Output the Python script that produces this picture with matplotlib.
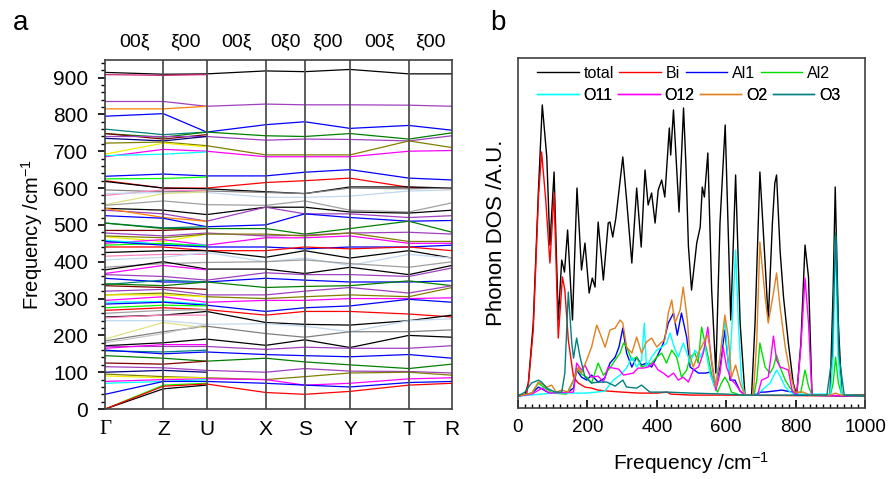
import numpy as np
import matplotlib
matplotlib.use('Agg')
import matplotlib.pyplot as plt
from matplotlib.ticker import MultipleLocator

plt.rcParams['font.family'] = ['Liberation Sans', 'DejaVu Sans']
plt.rcParams['font.size'] = 13
plt.rcParams['mathtext.default'] = 'regular'

# ---- panel a: band structure, values at the high symmetry points ----
kpoint_labels = ['Γ', 'Z', 'U', 'X', 'S', 'Y', 'T', 'R']
kpoint_dist = [0, 58.3, 101.6, 160.6, 199.6, 244.9, 303.6, 346.9]
direction_labels = ['00ξ', 'ξ00', '00ξ', '0ξ0', 'ξ00', '00ξ', 'ξ00']

n = np.nan
band_colors = [
    'k', '#D02070', '#A040C0', '#FF8000', 'b', '#008080', 'g', '#800000', '#A040C0', '#000080',
    '#808000', '#F0F000', '#FF00FF', '#00FFFF', 'b', '#00FF00', 'r', 'k', '#808080', '#FF80C0',
    '#C0D8F0', '#E0E080', '#A0A0A0', 'k', '#A040C0', '#FF8000', 'b', '#008080', 'g', '#800000',
    '#A040C0', '#F0F000', '#808000', '#FF00FF', '#00FFFF', '#00FF00', 'b', 'r', 'k', '#FF80C0',
    '#C0D8F0', '#A0A0A0', 'k', '#FF00FF', '#A040C0', 'b', '#008080', 'g', '#800000', '#A040C0',
    '#808000', '#F0F000', '#FF00FF', '#00FFFF', 'b', '#00FF00', 'r', '#A0A0A0', 'k', '#FF80C0',
    '#C0D8F0', '#808080', '#E0E080', '#C8C8C8', 'k', '#A040C0', '#FF00FF', '#008080', 'b', 'g',
    '#800000', '#A040C0', '#000080', '#808000', '#F0F000', '#FF00FF', '#00FFFF', 'b', '#00FF00', 'k',
    'r',
]
bands = [
    [914, 909, 910, 918, 916, 922, 910, 910],
    [908, 906, 908, n, n, n, n, n],
    [835, 835, 822, 828, 826, 826, 825, 822],
    [815, 815, 822, n, n, n, n, n],
    [795, 802, 752, 772, 780, 762, 770, 757],
    [760, 745, 752, n, n, n, n, n],
    [748, 738, 752, 742, 740, 748, 733, 750],
    [748, 733, 745, n, n, n, n, n],
    [740, 740, 740, 730, 733, 732, 728, 742],
    [735, 728, 740, n, n, n, n, n],
    [722, 725, 715, 690, 690, 690, 728, 710],
    [692, 722, 712, n, n, n, n, n],
    [685, 705, 700, 685, 685, 685, 700, 702],
    [688, 692, 698, n, n, n, n, n],
    [632, 638, 633, 633, 643, 650, 627, 622],
    [625, 626, 630, n, n, n, n, n],
    [620, 600, 600, 615, 620, 627, 602, 598],
    [618, 600, 598, 590, 585, 603, 603, 600],
    [595, 590, 592, 588, 585, 600, 598, 600],
    [580, 595, 592, n, n, n, n, n],
    [585, 588, 588, 575, 575, 578, 592, 595],
    [555, 585, 590, n, n, n, n, n],
    [553, 565, 555, 553, 565, 540, 535, 560],
    [545, 540, 528, 548, 548, 535, 532, 540],
    [540, 530, 510, 548, 530, 530, 520, 525],
    [545, 520, 510, n, n, n, n, n],
    [525, 518, 495, 500, 530, 520, 510, 512],
    [505, 492, 495, n, n, n, n, n],
    [505, 490, 490, 490, 475, 490, 510, 480],
    [485, 485, 490, n, n, n, n, n],
    [478, 470, 478, 470, 472, 478, 480, 475],
    [468, 455, 475, n, n, n, n, n],
    [470, 465, 475, 475, 470, 478, 455, 455],
    [450, 460, 445, 465, 465, 470, 450, 450],
    [458, 448, 445, n, n, n, n, n],
    [445, 450, 442, n, n, n, n, n],
    [455, 445, 440, 440, 435, 440, 440, 445],
    [440, 440, 430, 430, 440, 435, 440, 430],
    [425, 430, 430, 412, 430, 410, 430, 410],
    [415, 420, 420, n, n, n, n, n],
    [405, 412, 425, 400, 410, 390, 420, 410],
    [385, 395, 398, 400, 405, 395, 385, 400],
    [378, 400, 380, 380, 368, 385, 365, 390],
    [368, 390, 378, n, n, n, n, n],
    [365, 360, 350, 370, 365, 365, 360, 383],
    [355, 345, 345, 355, 350, 345, 345, 348],
    [338, 350, 345, n, n, n, n, n],
    [340, 335, 345, 330, 333, 335, 348, 335],
    [335, 330, 325, n, n, n, n, n],
    [320, 325, 310, 310, 320, 330, 315, 335],
    [310, 315, 305, 300, 305, 310, 305, 330],
    [310, 310, 305, n, n, n, n, n],
    [295, 305, 290, 295, 295, 300, 300, 302],
    [290, 292, 285, n, n, n, n, n],
    [285, 290, 282, 265, 275, 280, 298, 290],
    [275, 282, 280, n, n, n, n, n],
    [268, 275, 270, 255, 265, 265, 258, 250],
    [260, 268, 270, n, n, n, n, n],
    [250, 255, 265, 235, 230, 228, 240, 255],
    [248, 255, 255, n, n, n, n, n],
    [240, 240, 230, 232, 225, 210, 240, 245],
    [185, 210, 225, 205, 195, 210, 210, 215],
    [190, 235, 220, n, n, n, n, n],
    [180, 205, 230, n, n, n, n, n],
    [172, 180, 190, 173, 188, 167, 200, 195],
    [170, 170, 170, 162, 168, 165, 165, 172],
    [165, 175, 175, n, n, n, n, n],
    [158, 155, 160, n, n, n, n, n],
    [160, 150, 155, 148, 145, 142, 148, 138],
    [145, 138, 130, 138, 128, 120, 110, 122],
    [125, 122, 130, n, n, n, n, n],
    [115, 112, 105, 100, 110, 103, 102, 98],
    [100, 105, 100, n, n, n, n, n],
    [95, 88, 85, 80, 88, 98, 100, 92],
    [90, 85, 85, n, n, n, n, n],
    [75, 80, 82, 80, 65, 70, 82, 85],
    [70, 75, 80, n, n, n, n, n],
    [40, 75, 75, 70, 65, 60, 72, 75],
    [0, 65, 70, n, n, n, n, n],
    [0, 55, 65, n, n, n, n, n],
    [0, 62, 68, 45, 40, 48, 65, 70],
]

# ---- panel b: phonon DOS (arbitrary units) ----
total_f = [0, 20, 30, 44, 59, 70, 83, 92, 104, 116, 126, 134, 143, 157, 170, 183, 193, 205, 214, 222,
           231, 246, 260, 265, 273, 282, 302, 313, 328, 342, 355, 366, 375, 385, 395, 404, 414, 423, 436, 440,
           448, 464, 477, 484, 491, 500, 515, 525, 531, 537, 547, 558, 570, 582, 597, 613, 627, 640, 654, 673,
           683, 697, 712, 721, 733, 740, 745, 755, 765, 779, 793, 803, 815, 827, 837, 847, 899, 908, 914, 923,
           933, 1000]
total_v = [1, 1, 13, 73, 206, 291, 239, 151, 224, 76, 136, 124, 166, 76, 208, 126, 153, 103, 118, 109,
           174, 116, 173, 174, 159, 178, 239, 196, 133, 208, 149, 226, 191, 203, 173, 206, 216, 199, 268, 241,
           286, 184, 288, 230, 150, 106, 153, 169, 209, 199, 243, 106, 23, 173, 271, 76, 221, 73, 1, 1,
           73, 224, 133, 76, 173, 213, 221, 146, 99, 53, 13, 1, 53, 151, 119, 1, 1, 106, 209, 73,
           1, 1]

bi_f = [0, 25, 30, 44, 59, 68, 80, 92, 104, 116, 128, 135, 145, 160, 174, 193, 212, 231, 260, 300,
        350, 400, 430, 440, 500, 600, 1000]
bi_v = [0, 2, 13, 66, 199, 244, 196, 133, 203, 58, 119, 106, 56, 19, 13, 9, 8, 6, 5, 4,
        3, 3, 4, 2, 1, 1, 0]

al1_f = [0, 40, 59, 70, 90, 140, 160, 169, 183, 198, 212, 231, 250, 265, 280, 291, 302, 313, 328, 342,
         356, 370, 385, 400, 419, 433, 448, 459, 471, 486, 496, 520, 540, 553, 568, 582, 596, 611, 625, 640,
         654, 680, 700, 712, 760, 790, 800, 1000]
al1_v = [0, 3, 9, 7, 3, 3, 8, 26, 19, 16, 21, 14, 18, 33, 39, 49, 68, 43, 29, 39,
         31, 33, 29, 39, 53, 73, 83, 61, 83, 59, 29, 23, 23, 24, 9, 29, 66, 16, 16, 5,
         1, 1, 4, 4, 6, 4, 1, 0]

al2_f = [0, 40, 59, 70, 100, 140, 160, 169, 183, 198, 212, 231, 246, 265, 280, 294, 304, 313, 328, 342,
         356, 370, 385, 400, 414, 428, 443, 457, 471, 486, 496, 510, 519, 529, 539, 548, 563, 575, 586, 596,
         606, 615, 640, 680, 688, 697, 712, 726, 736, 745, 755, 770, 784, 798, 815, 827, 837, 847, 900, 908,
         915, 923, 933, 1000]
al2_v = [0, 3, 13, 10, 3, 2, 16, 28, 22, 19, 13, 33, 21, 28, 36, 43, 53, 49, 36, 39,
         29, 31, 33, 39, 43, 33, 46, 39, 19, 26, 39, 43, 33, 69, 53, 39, 13, 4, 13, 19,
         13, 4, 1, 1, 16, 53, 29, 23, 29, 41, 29, 16, 8, 3, 4, 26, 10, 1, 1, 13,
         39, 13, 1, 0]

o11_f = [0, 100, 200, 250, 275, 294, 313, 328, 342, 356, 364, 370, 385, 400, 414, 428, 438, 450, 462, 476,
         491, 496, 510, 525, 539, 553, 567, 582, 596, 608, 617, 627, 635, 644, 654, 680, 700, 726, 745, 755,
         770, 784, 800, 900, 908, 915, 922, 933, 1000]
o11_v = [0, 3, 3, 5, 16, 21, 28, 39, 29, 36, 73, 29, 39, 46, 49, 53, 63, 49, 39, 53,
         39, 33, 46, 39, 49, 23, 9, 39, 76, 23, 73, 146, 73, 16, 1, 1, 5, 13, 26, 20,
         9, 4, 2, 2, 40, 160, 40, 1, 0]

o12_f = [0, 40, 70, 90, 160, 169, 183, 193, 210, 231, 246, 260, 275, 290, 304, 332, 346, 361, 375, 390,
         404, 419, 433, 448, 462, 476, 491, 505, 520, 534, 547, 558, 570, 582, 591, 601, 615, 627, 640, 654,
         690, 702, 721, 729, 736, 745, 755, 765, 779, 790, 803, 815, 827, 837, 847, 1000]
o12_v = [0, 2, 8, 3, 4, 33, 26, 31, 19, 20, 14, 29, 28, 27, 21, 23, 28, 28, 29, 33,
         26, 23, 19, 23, 16, 19, 14, 26, 29, 43, 69, 33, 6, 23, 49, 29, 16, 12, 5, 1,
         1, 16, 19, 40, 60, 36, 29, 28, 26, 5, 1, 49, 118, 73, 1, 0]

o2_f = [0, 40, 59, 70, 83, 97, 110, 126, 145, 160, 174, 183, 198, 212, 227, 236, 251, 265, 280, 294,
        302, 313, 328, 342, 356, 370, 385, 400, 414, 423, 433, 443, 452, 467, 476, 488, 496, 505, 520, 534,
        547, 558, 570, 582, 596, 606, 615, 627, 640, 654, 678, 688, 697, 712, 721, 736, 745, 755, 770, 784,
        798, 822, 840, 900, 915, 930, 1000]
o2_v = [0, 3, 14, 12, 9, 11, 4, 6, 4, 16, 29, 23, 36, 49, 71, 63, 49, 66, 68, 76,
        73, 49, 43, 59, 43, 54, 58, 49, 54, 56, 83, 96, 73, 86, 109, 76, 39, 29, 43, 53,
        61, 36, 9, 39, 81, 59, 19, 31, 13, 1, 1, 56, 154, 99, 73, 103, 123, 89, 49, 23,
        4, 4, 1, 1, 3, 1, 0]

o3_f = [0, 20, 39, 59, 68, 83, 107, 126, 135, 145, 155, 160, 169, 179, 193, 212, 231, 256, 280, 302,
        313, 342, 356, 380, 430, 500, 600, 650, 700, 800, 890, 905, 915, 925, 940, 1000]
o3_v = [0, 4, 13, 16, 14, 8, 4, 4, 23, 104, 53, 38, 58, 39, 19, 13, 14, 14, 10, 16,
        9, 8, 11, 4, 4, 3, 2, 1, 1, 1, 1, 40, 163, 40, 1, 0]

dos_series = [
    ('total', total_f, total_v, 'k'),
    ('Bi', bi_f, bi_v, 'r'),
    ('Al1', al1_f, al1_v, 'b'),
    ('Al2', al2_f, al2_v, '#00E000'),
    ('O11', o11_f, o11_v, '#00FFFF'),
    ('O12', o12_f, o12_v, '#FF00FF'),
    ('O2', o2_f, o2_v, '#E08020'),
    ('O3', o3_f, o3_v, '#008080'),
]
legend_rows = [['total', 'Bi', 'Al1', 'Al2'], ['O11', 'O12', 'O2', 'O3']]

fig = plt.figure(figsize=(8.9, 4.79), dpi=100)

# panel a
ax1 = fig.add_axes([0.118, 0.146, 0.390, 0.729])
for c, b in zip(band_colors, bands):
    ax1.plot(kpoint_dist, b, color=c, lw=0.9, solid_joinstyle='round')
for d in kpoint_dist[1:-1]:
    ax1.axvline(d, color='#505050', lw=1.3)
ax1.set_xlim(kpoint_dist[0], kpoint_dist[-1])
ax1.set_ylim(0, 948)
ax1.set_xticks(kpoint_dist)
ax1.set_xticklabels(kpoint_labels, fontsize=15)
ax1.get_xticklabels()[0].set_family('Liberation Serif')
ax1.tick_params(axis='x', length=0, pad=8)
ax1.yaxis.set_major_locator(MultipleLocator(100))
ax1.yaxis.set_minor_locator(MultipleLocator(20))
ax1.tick_params(axis='y', which='major', direction='out', length=5, width=1.2,
                labelsize=15, pad=7)
ax1.tick_params(axis='y', which='minor', direction='out', length=3, width=1)
for s in ax1.spines.values():
    s.set_linewidth(1.2)
    s.set_color('#404040')
ax1.set_ylabel('Frequency /cm$^{-1}$', fontsize=14.5, labelpad=6)
for i, lab in enumerate(direction_labels):
    mid = (kpoint_dist[i] + kpoint_dist[i + 1]) / 2
    ax1.text(mid, 1.052, lab, transform=ax1.get_xaxis_transform(),
             ha='center', va='center', fontsize=14)

# panel b
ax2 = fig.add_axes([0.582, 0.148, 0.390, 0.731])
lines = {}
for name, f, v, c in dos_series:
    lines[name], = ax2.plot(f, v, color=c, lw=1.0, label=name, solid_joinstyle='round')
ax2.set_xlim(0, 1000)
ax2.set_ylim(-12, 338)
ax2.set_yticks([])
ax2.xaxis.set_major_locator(MultipleLocator(200))
ax2.xaxis.set_minor_locator(MultipleLocator(20))
ax2.tick_params(axis='x', which='major', direction='in', length=6, width=1.2, labelsize=13.5, pad=8)
ax2.tick_params(axis='x', which='minor', direction='in', length=3, width=1)
for s in ax2.spines.values():
    s.set_linewidth(1.2)
    s.set_color('#404040')
ax2.set_xlabel('Frequency /cm$^{-1}$', fontsize=15, labelpad=10)
ax2.set_ylabel('Phonon DOS /A.U.', fontsize=16, labelpad=8)

for row, ypos in zip(legend_rows, [0.957, 0.894]):
    leg = ax2.legend([lines[k] for k in row], row, ncol=4, loc='center left',
                     bbox_to_anchor=(0.055, ypos), frameon=False, fontsize=11.5,
                     handlelength=2.6, handletextpad=0.3, columnspacing=0.35,
                     borderpad=0, borderaxespad=0)
    ax2.add_artist(leg)

fig.text(0.014, 0.952, 'a', fontsize=20, ha='left', va='center')
fig.text(0.551, 0.952, 'b', fontsize=20, ha='left', va='center')

fig.savefig('out.png', dpi=100)
